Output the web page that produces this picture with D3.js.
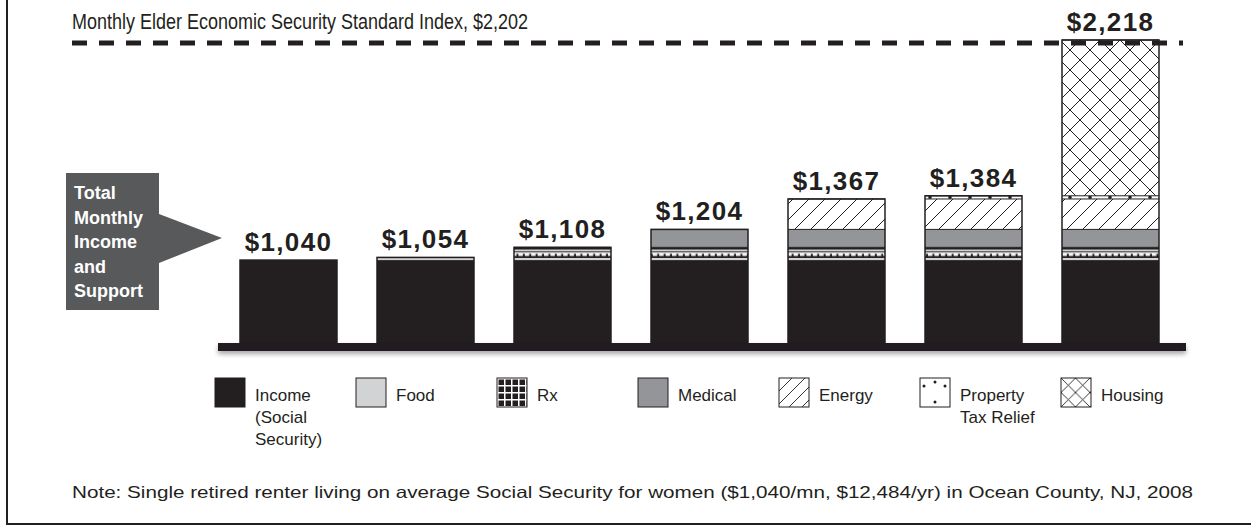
<!DOCTYPE html>
<html>
<head>
<meta charset="utf-8">
<script src="https://cdn.jsdelivr.net/npm/d3@7"></script>
<style>
  html, body { margin: 0; padding: 0; background: #fff; }
  svg { display: block; font-family: "Liberation Sans", Arial, sans-serif; }
</style>
</head>
<body>
<svg id="chart" width="1251" height="529"></svg>
<script>
// Budget components, in the order they are stacked
const categories = ["Income", "Food", "Rx", "Medical", "Energy", "Property Tax Relief", "Housing"];
const legendLines = [["Income", "(Social", "Security)"], ["Food"], ["Rx"], ["Medical"], ["Energy"], ["Property", "Tax Relief"], ["Housing"]];
// Monthly dollar amount each component adds
const segmentValues = [1040, 14, 54, 96, 163, 17, 834];
// Elder Economic Security Standard index
const standardIndex = 2202;
const titleText = "Monthly Elder Economic Security Standard Index, $2,202";
const calloutLines = ["Total", "Monthly", "Income", "and", "Support"];
const noteText = "Note: Single retired renter living on average Social Security for women ($1,040/mn, $12,484/yr) in Ocean County, NJ, 2008";

const ink = "#231f20";
const svg = d3.select("#chart");
const defs = svg.append("defs");

// running totals: bar i stacks components 0..i
const totals = Array.from(d3.cumsum(segmentValues));

const x = d3.scaleBand().domain(d3.range(categories.length)).range([220, 1179])
  .paddingInner(0.292).paddingOuter(0.146);
// the value axis is broken below the income level, so the floor is not zero
const axisFloor = 596;
const y = d3.scaleLinear().domain([axisFloor, d3.max(totals)]).range([343, 40]);

// ---- fill patterns ----
function pattern(id, w, h, oy) {
  const p = defs.append("pattern").attr("id", id).attr("patternUnits", "userSpaceOnUse")
    .attr("width", w).attr("height", h).attr("x", 0).attr("y", oy || 0);
  return p;
}
// Rx in the bars: black band with a white rule and a comb row
{
  const segTop = y(totals[2]);
  const p = pattern("rxBar", 6.4, 200, segTop);
  p.append("rect").attr("width", 6.4).attr("height", 200).attr("fill", ink);
  p.append("rect").attr("y", 2.4).attr("width", 6.4).attr("height", 1.5).attr("fill", "#fff");
  p.append("rect").attr("y", 5.0).attr("width", 6.4).attr("height", 1.4).attr("fill", "#fff");
  p.append("rect").attr("y", 6.2).attr("width", 4.4).attr("height", 2.4).attr("fill", "#fff");
}
// Rx legend: black grid of squares
{
  const p = pattern("rxLegend", 7, 7, 378);
  p.append("rect").attr("width", 7).attr("height", 7).attr("fill", "#fff");
  p.append("rect").attr("x", 1.5).attr("y", 1.5).attr("width", 5.5).attr("height", 5.5).attr("fill", ink);
}
// Energy: single diagonal hatching
function hatch(id, s, sw) {
  const p = pattern(id, s, s);
  p.append("rect").attr("width", s).attr("height", s).attr("fill", "#fff");
  p.append("path").attr("d", `M0,${s} L${s},0 M${-s/2},${s/2} L${s/2},${-s/2} M${s/2},${s*1.5} L${s*1.5},${s/2}`)
    .attr("stroke", ink).attr("stroke-width", sw);
}
hatch("energyBar", 16, 1);
hatch("energyLegend", 13, 0.9);
// Housing: cross hatching
function cross(id, s, sw) {
  const p = pattern(id, s, s);
  p.append("rect").attr("width", s).attr("height", s).attr("fill", "#fff");
  p.append("path").attr("d", `M0,0 L${s},${s} M0,${s} L${s},0`)
    .attr("stroke", ink).attr("stroke-width", sw);
}
cross("housingBar", 20, 1);
cross("housingLegend", 14.5, 0.9);
// Property tax relief: scattered dots
{
  const segTop = y(totals[5]);
  const p = pattern("propBar", 20, 200, segTop);
  p.append("rect").attr("width", 20).attr("height", 200).attr("fill", "#fff");
  p.append("circle").attr("cx", 10).attr("cy", 1.6).attr("r", 1.8).attr("fill", ink);
}
{
  const p = defs.append("pattern").attr("id", "propLegend").attr("patternUnits", "objectBoundingBox")
    .attr("patternContentUnits", "userSpaceOnUse").attr("width", 1).attr("height", 1);
  p.append("rect").attr("width", 30).attr("height", 30).attr("fill", "#fff");
  [[4, 8], [15, 4], [25, 8], [15, 24]].forEach(([cx, cy]) =>
    p.append("circle").attr("cx", cx).attr("cy", cy).attr("r", 1.5).attr("fill", ink));
}

const barFills = [ink, "#d1d3d4", "url(#rxBar)", "#939598", "url(#energyBar)", "url(#propBar)", "url(#housingBar)"];
const legendFills = [ink, "#d1d3d4", "url(#rxLegend)", "#939598", "url(#energyLegend)", "url(#propLegend)", "url(#housingLegend)"];

// soft shadow under the floor rule
const shadow = defs.append("filter").attr("id", "floorShadow").attr("x", "-5%").attr("y", "-100%")
  .attr("width", "110%").attr("height", "400%");
shadow.append("feGaussianBlur").attr("in", "SourceAlpha").attr("stdDeviation", 2.5).attr("result", "b");
shadow.append("feOffset").attr("in", "b").attr("dy", 3).attr("result", "o");
shadow.append("feComponentTransfer").attr("in", "o").attr("result", "s")
  .append("feFuncA").attr("type", "linear").attr("slope", 0.35);
const m = shadow.append("feMerge");
m.append("feMergeNode").attr("in", "s");
m.append("feMergeNode").attr("in", "SourceGraphic");

// ---- frame ----
svg.append("path").attr("d", "M7,0 V524 H1251").attr("fill", "none").attr("stroke", ink).attr("stroke-width", 2);

// ---- bars ----
const bars = svg.append("g").selectAll("g").data(totals).join("g");
bars.each(function (total, i) {
  const g = d3.select(this);
  const segs = d3.range(i + 1).map(k => ({
    k,
    y0: k === 0 ? axisFloor : totals[k - 1],
    y1: totals[k]
  }));
  g.selectAll("rect.seg").data(segs).join("rect").attr("class", "seg")
    .attr("x", x(i)).attr("width", x.bandwidth())
    .attr("y", d => y(d.y1)).attr("height", d => y(d.y0) - y(d.y1))
    .attr("fill", d => barFills[d.k]);
  // thin rule on top of each component
  g.selectAll("line.sep").data(segs.filter(d => d.k > 0)).join("line").attr("class", "sep")
    .attr("x1", x(i)).attr("x2", x(i) + x.bandwidth())
    .attr("y1", d => y(d.y1)).attr("y2", d => y(d.y1))
    .attr("stroke", ink).attr("stroke-width", 1);
  // outline of the whole bar
  g.append("rect").attr("x", x(i)).attr("width", x.bandwidth())
    .attr("y", y(total)).attr("height", y(axisFloor) - y(total))
    .attr("fill", "none").attr("stroke", ink).attr("stroke-width", 1.5);
  g.append("text").attr("x", x(i) + x.bandwidth() / 2).attr("y", y(total) - 9)
    .attr("text-anchor", "middle").attr("font-size", 26).attr("font-weight", "bold")
    .attr("letter-spacing", 1.3).attr("fill", ink)
    .text(d3.format("$,")(total));
});

// floor rule
svg.append("rect").attr("x", 218).attr("y", y(axisFloor)).attr("width", 968).attr("height", 8)
  .attr("fill", ink).attr("filter", "url(#floorShadow)");

// ---- standard index line and title ----
svg.append("line").attr("x1", 72).attr("x2", 1183)
  .attr("y1", y(standardIndex)).attr("y2", y(standardIndex))
  .attr("stroke", ink).attr("stroke-width", 5).attr("stroke-dasharray", "15 12");
svg.append("text").attr("x", 72).attr("y", 29).attr("font-size", 21.5).attr("fill", ink)
  .attr("textLength", 456).attr("lengthAdjust", "spacingAndGlyphs").text(titleText);

// ---- callout ----
svg.append("path").attr("d", "M66,173 H159 V214 L222,238 L159,263 V310 H66 Z").attr("fill", "#58595b");
svg.append("g").selectAll("text").data(calloutLines).join("text")
  .attr("x", 74).attr("y", (d, i) => 199 + i * 24.5)
  .attr("font-size", 18).attr("font-weight", "bold").attr("fill", "#fff").text(d => d);

// ---- legend ----
const lg = svg.append("g").selectAll("g").data(categories).join("g")
  .attr("transform", (d, i) => `translate(${215 + i * 141},378)`);
lg.append("rect").attr("width", 30).attr("height", 29)
  .attr("fill", (d, i) => legendFills[i]).attr("stroke", ink).attr("stroke-width", 1);
lg.each(function (d, i) {
  d3.select(this).selectAll("text").data(legendLines[i]).join("text")
    .attr("x", 40).attr("y", (t, j) => 23 + j * 22)
    .attr("font-size", 17).attr("fill", ink).text(t => t);
});

// ---- note ----
svg.append("text").attr("x", 72).attr("y", 498).attr("font-size", 16.5).attr("fill", ink)
  .attr("textLength", 1121).attr("lengthAdjust", "spacingAndGlyphs").text(noteText);
</script>
</body>
</html>
